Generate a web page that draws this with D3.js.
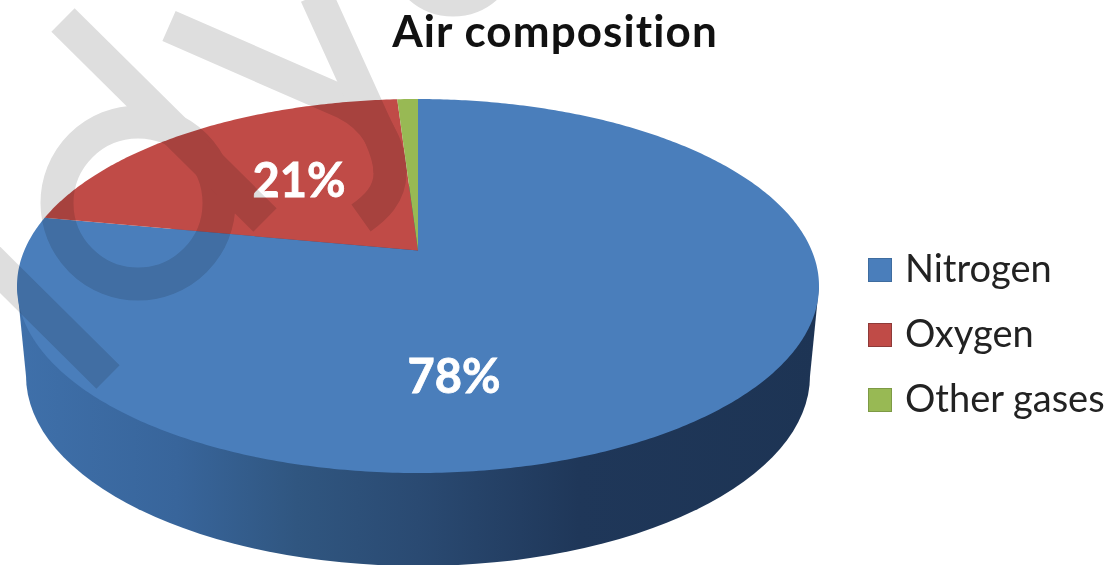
<!DOCTYPE html>
<html>
<head>
<meta charset="utf-8">
<title>Air composition</title>
<script src="https://cdnjs.cloudflare.com/ajax/libs/d3/7.8.5/d3.min.js"></script>
<style>
    html, body { margin: 0; padding: 0; background: #fff; overflow: hidden; }
    svg { display: block; }
    text { font-family: Lato, "Open Sans", sans-serif; font-variant-ligatures: none; }
    .watermark { mix-blend-mode: multiply; }
    .watermark path, .watermark circle { fill: none; stroke: #dedede; stroke-width: 33; }
</style>
</head>
<body>
<div id="chart"><svg></svg></div>
<script>
var categories = ["Nitrogen", "Oxygen", "Other gases"];
var values = [78, 21, 1];
var colors = ["#4a7ebb", "#c04b47", "#98b954"];
var legendEdge = ["#3f6c9f", "#8e3a38", "#7d9a45"];

var width = 1116,
    height = 565;

var svg = d3.select("#chart svg").attr("width", width).attr("height", height);

// top face of the disc, bottom rim is a bit narrower (perspective)
var face = { cx: 418, cy: 286, rx: 401, ry: 187 },
    rim = { cx: 418, cy: 376, rx: 392, ry: 190 },
    tilt = 0.19;

var x = d3.scaleLinear().domain([-1, 1]).range([face.cx - face.rx, face.cx + face.rx]),
    y = d3.scaleLinear().domain([-1, 1]).range([face.cy + face.ry, face.cy - face.ry]);

// circle point -> point on the tilted disc, the centre moves up with the tilt
function project(angle, r) {
    var u = r * Math.sin(angle),
        v = r * Math.cos(angle),
        k = 1 + tilt * v;
    return [x(u * Math.sqrt(1 - tilt * tilt) / k), y((v + tilt) / k)];
}

var pie = d3.pie().sort(null).startAngle(0).endAngle(2 * Math.PI);
var slices = pie(values);
var line = d3.line();

function slicePath(d) {
    var steps = Math.max(4, Math.ceil((d.endAngle - d.startAngle) * 90));
    var pts = [project(0, 0)];
    d3.range(steps + 1).forEach(function (i) {
        pts.push(project(d.startAngle + (d.endAngle - d.startAngle) * i / steps, 1));
    });
    return line(pts) + "Z";
}

var defs = svg.append("defs");
var wallGrad = defs.append("linearGradient")
    .attr("id", "wall")
    .attr("gradientUnits", "userSpaceOnUse")
    .attr("x1", rim.cx - rim.rx - 10).attr("x2", rim.cx + rim.rx + 10)
    .attr("y1", 0).attr("y2", 0);
[[0, "#3f70aa"], [0.2, "#38659b"], [0.35, "#305680"], [0.5, "#2a4a72"], [0.7, "#1f3759"], [1, "#1d3454"]]
    .forEach(function (s) {
        wallGrad.append("stop").attr("offset", s[0]).attr("stop-color", s[1]);
    });

// side wall
var wall = svg.append("g");
wall.append("ellipse")
    .attr("cx", rim.cx).attr("cy", rim.cy)
    .attr("rx", rim.rx).attr("ry", rim.ry)
    .attr("fill", "url(#wall)");
wall.append("path")
    .attr("d", line([
        [face.cx - face.rx, face.cy],
        [face.cx + face.rx, face.cy],
        [rim.cx + rim.rx, rim.cy],
        [rim.cx - rim.rx, rim.cy]
    ]) + "Z")
    .attr("fill", "url(#wall)");

// slices
svg.append("g").selectAll("path")
    .data(slices)
    .enter().append("path")
    .attr("d", slicePath)
    .attr("fill", function (d, i) { return colors[i]; });

// percent labels, the smallest slice has none
var labelPos = [[454, 393], [299, 197]];
svg.append("g").selectAll("text")
    .data(slices.filter(function (d) { return d.value > 1; }))
    .enter().append("text")
    .attr("x", function (d, i) { return labelPos[i][0]; })
    .attr("y", function (d, i) { return labelPos[i][1]; })
    .attr("text-anchor", "middle")
    .attr("fill", "#fff")
    .attr("stroke", "#fff")
    .attr("stroke-width", 0.8)
    .style("font-size", "47px")
    .style("font-weight", "700")
    .text(function (d) { return d.value + "%"; });

// title
svg.append("text")
    .attr("x", 555)
    .attr("y", 47)
    .attr("text-anchor", "middle")
    .attr("fill", "#111")
    .style("font-size", "44px")
    .style("font-weight", "700")
    .style("letter-spacing", "1.1px")
    .text("Air composition");

// legend
var legendY = d3.scalePoint().domain(categories).range([270, 400]);
var legend = svg.append("g").selectAll("g")
    .data(categories)
    .enter().append("g")
    .attr("transform", function (d) { return "translate(868," + legendY(d) + ")"; });

legend.append("rect")
    .attr("x", 0.5).attr("y", -11.5)
    .attr("width", 23).attr("height", 23)
    .attr("fill", function (d, i) { return colors[i]; })
    .attr("stroke", function (d, i) { return legendEdge[i]; });

legend.append("text")
    .attr("x", 37)
    .attr("y", 12)
    .attr("fill", "#222")
    .style("font-size", "38px")
    .text(function (d) { return d; });

// site watermark lying over everything
var mark = svg.append("g").attr("class", "watermark");
mark.append("circle").attr("cx", 138).attr("cy", 203).attr("r", 81);
mark.append("path").attr("d", "M63,20L265,220");
mark.append("path").attr("d", "M-20,250L108,377");
mark.append("path").attr("d", "M169,26L345,103C375,118 390,145 390,173C390,195 375,208 361,218");
mark.append("path").attr("d", "M316,-5L375,125C385,145 390,160 390,173");
mark.append("circle").attr("cx", 453).attr("cy", -50).attr("r", 50);
</script>
</body>
</html>
